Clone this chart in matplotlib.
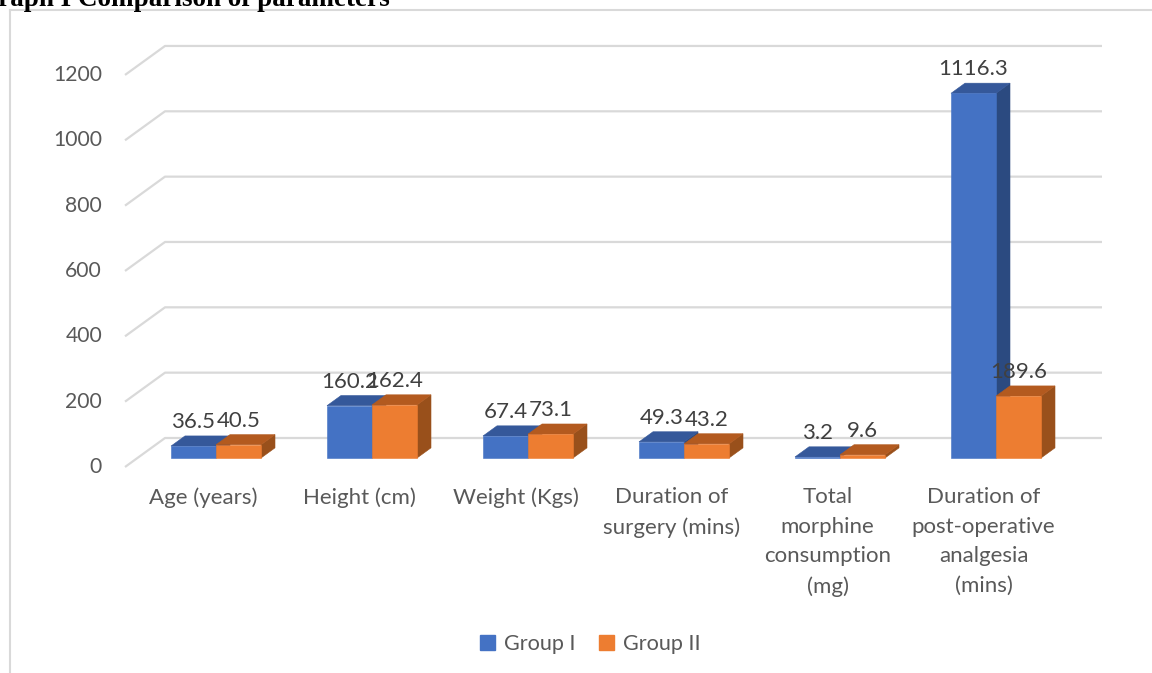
import matplotlib.pyplot as plt
from matplotlib.patches import Polygon, Patch
from matplotlib.lines import Line2D

# data
categories = ['Age (years)', 'Height (cm)', 'Weight (Kgs)',
              'Duration of\nsurgery (mins)',
              'Total\nmorphine\nconsumption\n(mg)',
              'Duration of\npost-operative\nanalgesia\n(mins)']
group1 = [36.5, 160.2, 67.4, 49.3, 3.2, 1116.3]
group2 = [40.5, 162.4, 73.1, 43.2, 9.6, 189.6]
yticks = [0, 200, 400, 600, 800, 1000, 1200]

plt.rcParams['font.family'] = ['Lato', 'DejaVu Sans']
txt_color = '#595959'
grid_color = '#d9d9d9'

# face colours: front, top, side
blue = ('#4472C4', '#35589A', '#2B4A80')
orange = ('#ED7D31', '#B35A1F', '#99501B')

W, H = 1152, 673
fig = plt.figure(figsize=(W / 100, H / 100), dpi=100)
ax = fig.add_axes([0, 0, 1, 1])
ax.set_axis_off()

# pixel layout of the pseudo-3D plot
x0_px, step_px = 203.6, 156.0      # category centre (front plane) and spacing
y0_px, scale_px = 467.0, 0.3267    # value 0 on front plane, pixels per unit
ax.set_xlim(-x0_px / step_px, (W - x0_px) / step_px)
ax.set_ylim((y0_px - H) / scale_px, y0_px / scale_px)

DX = 40 / step_px     # depth shift in x (front -> back wall)
DY = 29 / scale_px    # depth shift in y
t0, t1 = 0.31, 0.66   # depth span of the bars
bw = 45 / step_px     # bar width
x_left = -0.5038
x_right = (1102 - x0_px) / step_px - DX

# gridlines: diagonal on the floor edge + horizontal on the back wall
for v in yticks:
    ax.plot([x_left, x_left + DX, x_right + DX], [v, v + DY, v + DY],
            color=grid_color, lw=1.6, solid_capstyle='butt', zorder=1)
    ax.text(x_left - 23 / step_px, v, str(v), ha='right', va='center',
            fontsize=15.2, color=txt_color)


def bar3d(xl, h, cols):
    f = [(xl + t0 * DX, t0 * DY), (xl + bw + t0 * DX, t0 * DY),
         (xl + bw + t0 * DX, h + t0 * DY), (xl + t0 * DX, h + t0 * DY)]
    top = [(xl + t0 * DX, h + t0 * DY), (xl + bw + t0 * DX, h + t0 * DY),
           (xl + bw + t1 * DX, h + t1 * DY), (xl + t1 * DX, h + t1 * DY)]
    side = [(xl + bw + t0 * DX, t0 * DY), (xl + bw + t1 * DX, t1 * DY),
            (xl + bw + t1 * DX, h + t1 * DY), (xl + bw + t0 * DX, h + t0 * DY)]
    for pts, c in ((side, cols[2]), (top, cols[1]), (f, cols[0])):
        ax.add_patch(Polygon(pts, closed=True, facecolor=c, edgecolor=c,
                             lw=0.4, zorder=3))
    ax.annotate(f'{h:g}', (xl + bw / 2 + t0 * DX, h + t1 * DY),
                xytext=(0, 10), textcoords='offset points',
                ha='center', va='center', fontsize=16, color='#404040',
                zorder=5)


for i in range(len(categories)):
    bar3d(i - bw, group1[i], blue)
    bar3d(i, group2[i], orange)
    ax.text(i, -(487 - y0_px) / scale_px, categories[i], ha='center',
            va='top', fontsize=16, color=txt_color, linespacing=1.6)

handles = [Patch(color=blue[0], label='Group I'),
           Patch(color=orange[0], label='Group II')]
fig.legend(handles=handles, loc='center', bbox_to_anchor=(590 / W, 1 - 644 / H),
           ncol=2, frameon=False, fontsize=15.6, handlelength=0.7,
           handleheight=0.7, handletextpad=0.4, columnspacing=1.1,
           labelcolor=txt_color)

# chart border
fig.add_artist(Line2D([10 / W, 10 / W], [0, 1 - 10 / H], color=grid_color,
                      lw=1.5, transform=fig.transFigure))
fig.add_artist(Line2D([10 / W, 1], [1 - 10 / H, 1 - 10 / H], color=grid_color,
                      lw=1.5, transform=fig.transFigure))

fig.text(390 / W, 1 - 6 / H, 'Graph I Comparison of parameters', ha='right',
         va='baseline', fontsize=19.5, fontweight='bold',
         family='Liberation Serif', color='black')

fig.savefig('out.png', dpi=100)
